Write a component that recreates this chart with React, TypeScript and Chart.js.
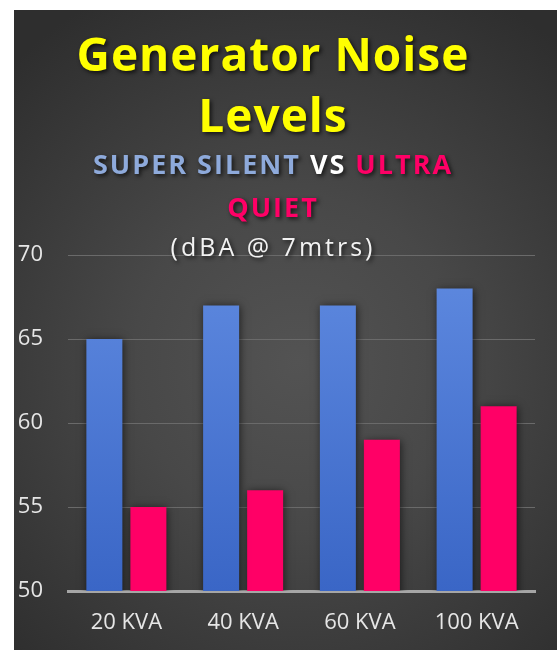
import React, { useEffect, useRef } from "react";
import { Chart, registerables } from "chart.js";

Chart.register(...registerables);

const categories = ["20 KVA", "40 KVA", "60 KVA", "100 KVA"];
const superSilent = [65, 67, 67, 68];
const ultraQuiet = [55, 56, 59, 61];
const yTicks = [50, 55, 60, 65, 70];
const titleLines = ["Generator Noise", "Levels"];
const subtitleLine1: [string, string][] = [
  ["SUPER SILENT", "#8eaadb"],
  [" VS ", "#ffffff"],
  ["ULTRA", "#ff0066"],
];
const subtitleLine2: [string, string][] = [["QUIET", "#ff0066"]];
const unitLine = "(dBA @ 7mtrs)";

const W = 543;
const H = 640;

function drawSegments(
  ctx: CanvasRenderingContext2D,
  segs: [string, string][],
  cx: number,
  y: number
) {
  const widths = segs.map((s) => ctx.measureText(s[0]).width);
  const total = widths.reduce((a, b) => a + b, 0);
  let x = cx - total / 2;
  ctx.textAlign = "left";
  segs.forEach((s, i) => {
    ctx.fillStyle = s[1];
    ctx.fillText(s[0], x, y);
    x += widths[i];
  });
}

const headerPlugin = {
  id: "headerText",
  afterDraw(chart: any) {
    const ctx: CanvasRenderingContext2D = chart.ctx;
    const cx = 259;
    ctx.save();
    ctx.textBaseline = "alphabetic";
    ctx.shadowColor = "rgba(0,0,0,0.7)";
    ctx.shadowBlur = 4;
    ctx.shadowOffsetX = 2;
    ctx.shadowOffsetY = 2;

    ctx.font = "bold 46px 'Open Sans'";
    (ctx as any).letterSpacing = "1px";
    ctx.textAlign = "center";
    ctx.fillStyle = "#ffff00";
    ctx.fillText(titleLines[0], cx, 61);
    ctx.fillText(titleLines[1], cx, 122);

    ctx.font = "bold 27px 'Open Sans'";
    (ctx as any).letterSpacing = "2px";
    drawSegments(ctx, subtitleLine1, cx, 164);
    drawSegments(ctx, subtitleLine2, cx, 207);

    ctx.font = "25px 'Open Sans'";
    (ctx as any).letterSpacing = "3px";
    ctx.textAlign = "center";
    ctx.fillStyle = "#f2f2f2";
    ctx.fillText(unitLine, cx, 246);
    ctx.restore();
  },
};

const barShadowPlugin = {
  id: "barShadow",
  beforeDatasetsDraw(chart: any) {
    const ctx = chart.ctx;
    ctx.save();
    ctx.shadowColor = "rgba(0,0,0,0.6)";
    ctx.shadowBlur = 8;
    ctx.shadowOffsetX = 1;
    ctx.shadowOffsetY = 1;
  },
  afterDatasetsDraw(chart: any) {
    chart.ctx.restore();
  },
};

function blueFill(context: any) {
  const chart = context.chart;
  const area = chart.chartArea;
  if (!area) return "#4472c4";
  const g = chart.ctx.createLinearGradient(0, area.top, 0, area.bottom);
  g.addColorStop(0, "#5f8ae0");
  g.addColorStop(1, "#3a66c6");
  return g;
}

export default function App() {
  const ref = useRef<HTMLCanvasElement | null>(null);

  useEffect(() => {
    if (!ref.current) return;
    const chart = new Chart(ref.current, {
      type: "bar",
      data: {
        labels: categories,
        datasets: [
          {
            label: "Super Silent",
            data: superSilent,
            backgroundColor: blueFill,
            borderWidth: 0,
          },
          {
            label: "Ultra Quiet",
            data: ultraQuiet,
            backgroundColor: "#ff0066",
            borderWidth: 0,
          },
        ],
      },
      options: {
        responsive: false,
        animation: false,
        events: [],
        layout: { padding: { top: 245, right: 22, bottom: 0, left: 0 } },
        datasets: {
          bar: { categoryPercentage: 0.754, barPercentage: 0.818 },
        },
        plugins: {
          legend: { display: false },
          title: { display: false },
          tooltip: { enabled: false },
        },
        scales: {
          x: {
            grid: { display: false, drawTicks: false },
            border: { display: true, color: "#a6a6a6", width: 3 },
            ticks: {
              color: "#e6e6e6",
              padding: 19,
              font: { family: "'Open Sans'", size: 22 },
            },
            afterFit: (scale: any) => {
              scale.height = 59;
            },
          },
          y: {
            min: 50,
            max: 70,
            grid: { color: "#6a6a6a", lineWidth: 1, drawTicks: false },
            border: { display: false },
            afterBuildTicks: (scale: any) => {
              scale.ticks = yTicks.map((v) => ({ value: v }));
            },
            ticks: {
              color: "#e6e6e6",
              padding: 25,
              font: { family: "'Open Sans'", size: 22 },
            },
            afterFit: (scale: any) => {
              scale.width = 54;
            },
          },
        },
      },
      plugins: [barShadowPlugin, headerPlugin],
    });
    return () => chart.destroy();
  }, []);

  return (
    <div
      style={{
        position: "absolute",
        left: 14,
        top: 10,
        width: W,
        height: H,
        background:
          "radial-gradient(ellipse 75% 65% at 52% 55%, #535353 0%, #484848 40%, #2e2e2e 100%)",
      }}
    >
      <canvas
        ref={ref}
        width={W}
        height={H}
        style={{ display: "block", width: W, height: H }}
      />
    </div>
  );
}
